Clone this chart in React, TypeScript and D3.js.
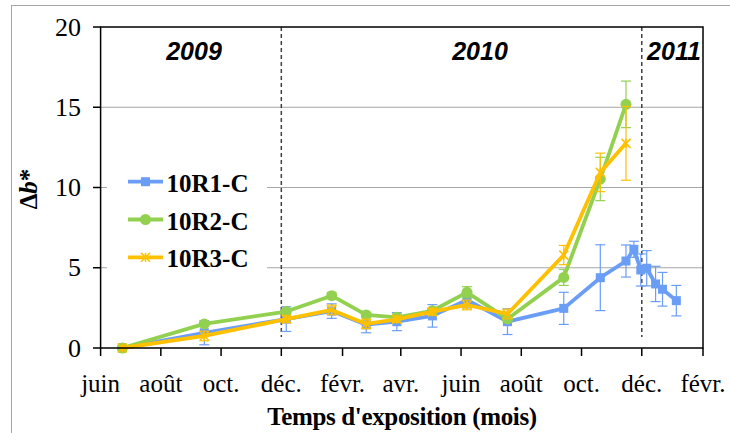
import React from "react";
import * as d3 from "d3";

const dates = [
  "2009-06-23", "2009-09-14", "2009-12-06", "2010-01-21", "2010-02-25", "2010-03-28",
  "2010-05-03", "2010-06-07", "2010-07-18", "2010-09-13", "2010-10-20", "2010-11-15",
  "2010-11-23", "2010-11-30", "2010-12-06", "2010-12-15", "2010-12-22", "2011-01-05",
];

const r1Values = [0, 0.95, 1.8, 2.3, 1.45, 1.64, 2.0, 3.0, 1.64, 2.47, 4.38, 5.42, 6.15, 4.86, 4.97, 3.99, 3.66, 2.95];
const r1Errors = [0, 0.75, 0.77, 0.45, 0.5, 0.56, 0.7, 0.5, 0.8, 1.0, 2.05, 1.0, 0.5, 1.0, 1.1, 1.1, 1.05, 0.95];

const r2Values = [0, 1.5, 2.27, 3.26, 2.06, 1.91, 2.32, 3.47, 1.81, 4.4, 10.53, 15.18];
const r2Errors = [0, 0.1, 0.15, 0.2, 0.15, 0.2, 0.15, 0.35, 0.2, 0.5, 1.35, 1.45];

const r3Values = [0, 0.75, 1.8, 2.37, 1.5, 1.79, 2.26, 2.68, 2.12, 5.79, 10.94, 12.75];
const r3Errors = [0, 0.3, 0.2, 0.3, 0.3, 0.2, 0.2, 0.3, 0.3, 0.6, 1.2, 2.3];

const seriesNames = ["10R1-C", "10R2-C", "10R3-C"];
const seriesColors = ["#6A9DF6", "#92D050", "#FFC000"];

const xDomain = ["2009-06-01", "2011-02-01"];
const tickLabels = ["juin", "août", "oct.", "déc.", "févr.", "avr.", "juin", "août", "oct.", "déc.", "févr."];
const yTicks = [0, 5, 10, 15, 20];
const yearSeparators = ["2009-12-01", "2010-12-01"];
const yearLabels = ["2009", "2010", "2011"];

const W = 730;
const H = 433;
const left = 100.6;
const right = 703;
const top = 27;
const bottom = 348;

const SERIF = "'Liberation Serif', 'Times New Roman', Times, serif";
const SANS = "'Liberation Sans', Arial, sans-serif";

function Marker({ type, x, y, color }: { type: number; x: number; y: number; color: string }) {
  if (type === 0) return <rect x={x - 4.5} y={y - 4.5} width={9} height={9} fill={color} />;
  if (type === 1) return <circle cx={x} cy={y} r={5.5} fill={color} />;
  const s = 4.5;
  return (
    <g stroke={color} strokeWidth={1.6}>
      <line x1={x - s} y1={y - s} x2={x + s} y2={y + s} />
      <line x1={x - s} y1={y + s} x2={x + s} y2={y - s} />
      <line x1={x} y1={y - s} x2={x} y2={y + s} />
    </g>
  );
}

export default function App() {
  const x = d3.scaleUtc().domain(xDomain.map((d) => new Date(d))).range([left, right]);
  const y = d3.scaleLinear().domain([0, 20]).range([bottom, top]);
  const xTicks = d3.utcMonth.range(new Date(xDomain[0]), d3.utcDay.offset(new Date(xDomain[1]), 1), 2);

  const series = [
    { values: r1Values, errors: r1Errors },
    { values: r2Values, errors: r2Errors },
    { values: r3Values, errors: r3Errors },
  ];

  const line = d3
    .line<{ d: Date; v: number }>()
    .x((p) => x(p.d))
    .y((p) => y(p.v));

  const yearX = [194, 480, 674];

  return (
    <svg width={W} height={H} style={{ position: "absolute", left: 0, top: 0, background: "#fff" }}>
      <rect x={11.5} y={5.5} width={W} height={H} fill="#fff" stroke="#A6A6A6" strokeWidth={1} />
      {yTicks
        .filter((t) => t > 0 && t < 20)
        .map((t) => (
          <line key={t} x1={left} x2={right} y1={y(t)} y2={y(t)} stroke="#A6A6A6" strokeWidth={1.2} />
        ))}
      {yearSeparators.map((d) => (
        <line
          key={d}
          x1={x(new Date(d))}
          x2={x(new Date(d))}
          y1={top}
          y2={337}
          stroke="#404040"
          strokeWidth={1.5}
          strokeDasharray="4,3"
        />
      ))}
      {yearLabels.map((t, i) => (
        <text
          key={t}
          x={yearX[i]}
          y={60}
          textAnchor="middle"
          style={{ fontFamily: SANS, fontWeight: "bold", fontStyle: "italic", fontSize: 25 }}
          fill="#000"
        >
          {t}
        </text>
      ))}
      <rect x={107} y={160} width={160} height={117} fill="#fff" />
      {series.map((s, si) => {
        const pts = s.values.map((v, i) => ({ d: new Date(dates[i]), v }));
        const color = seriesColors[si];
        return (
          <g key={si}>
            {pts.map((p, i) => {
              const e = s.errors[i];
              if (!e) return null;
              const cx = x(p.d);
              return (
                <g key={i} stroke={color} strokeWidth={1.2}>
                  <line x1={cx} x2={cx} y1={y(p.v - e)} y2={y(p.v + e)} />
                  <line x1={cx - 5} x2={cx + 5} y1={y(p.v - e)} y2={y(p.v - e)} />
                  <line x1={cx - 5} x2={cx + 5} y1={y(p.v + e)} y2={y(p.v + e)} />
                </g>
              );
            })}
            <path d={line(pts) || ""} fill="none" stroke={color} strokeWidth={3.8} strokeLinejoin="round" />
            {pts.map((p, i) => (
              <Marker key={i} type={si} x={x(p.d)} y={y(p.v)} color={color} />
            ))}
          </g>
        );
      })}
      <rect x={left} y={top} width={right - left} height={bottom - top} fill="none" stroke="#000" strokeWidth={1.5} />
      {yTicks.map((t) => (
        <g key={t}>
          <line x1={93} x2={left} y1={y(t)} y2={y(t)} stroke="#000" strokeWidth={1.5} />
          <text x={81} y={y(t) + 8.5} textAnchor="end" style={{ fontFamily: SERIF, fontSize: 26 }} fill="#000">
            {t}
          </text>
        </g>
      ))}
      {xTicks.map((d, i) => (
        <g key={i}>
          <line x1={x(d)} x2={x(d)} y1={bottom} y2={356} stroke="#000" strokeWidth={1.5} />
          <text x={x(d)} y={392} textAnchor="middle" style={{ fontFamily: SERIF, fontSize: 25 }} fill="#000">
            {tickLabels[i]}
          </text>
        </g>
      ))}
      <text
        x={402}
        y={425}
        textAnchor="middle"
        style={{ fontFamily: SERIF, fontWeight: "bold", fontSize: 25, letterSpacing: "-0.35px" }}
        fill="#000"
      >
        Temps d'exposition (mois)
      </text>
      <text
        transform="translate(37,189) rotate(-90)"
        textAnchor="middle"
        style={{ fontFamily: SERIF, fontWeight: "bold", fontSize: 25 }}
        fill="#000"
      >
        Δ<tspan style={{ fontStyle: "italic" }}>b</tspan>*
      </text>
      {seriesNames.map((n, i) => {
        const cy = 181.7 + i * 37.8;
        return (
          <g key={n}>
            <line x1={128} x2={163} y1={cy} y2={cy} stroke={seriesColors[i]} strokeWidth={3.8} />
            <Marker type={i} x={145.5} y={cy} color={seriesColors[i]} />
            <text x={166.5} y={cy + 10} style={{ fontFamily: SERIF, fontWeight: "bold", fontSize: 25 }} fill="#000">
              {n}
            </text>
          </g>
        );
      })}
    </svg>
  );
}
